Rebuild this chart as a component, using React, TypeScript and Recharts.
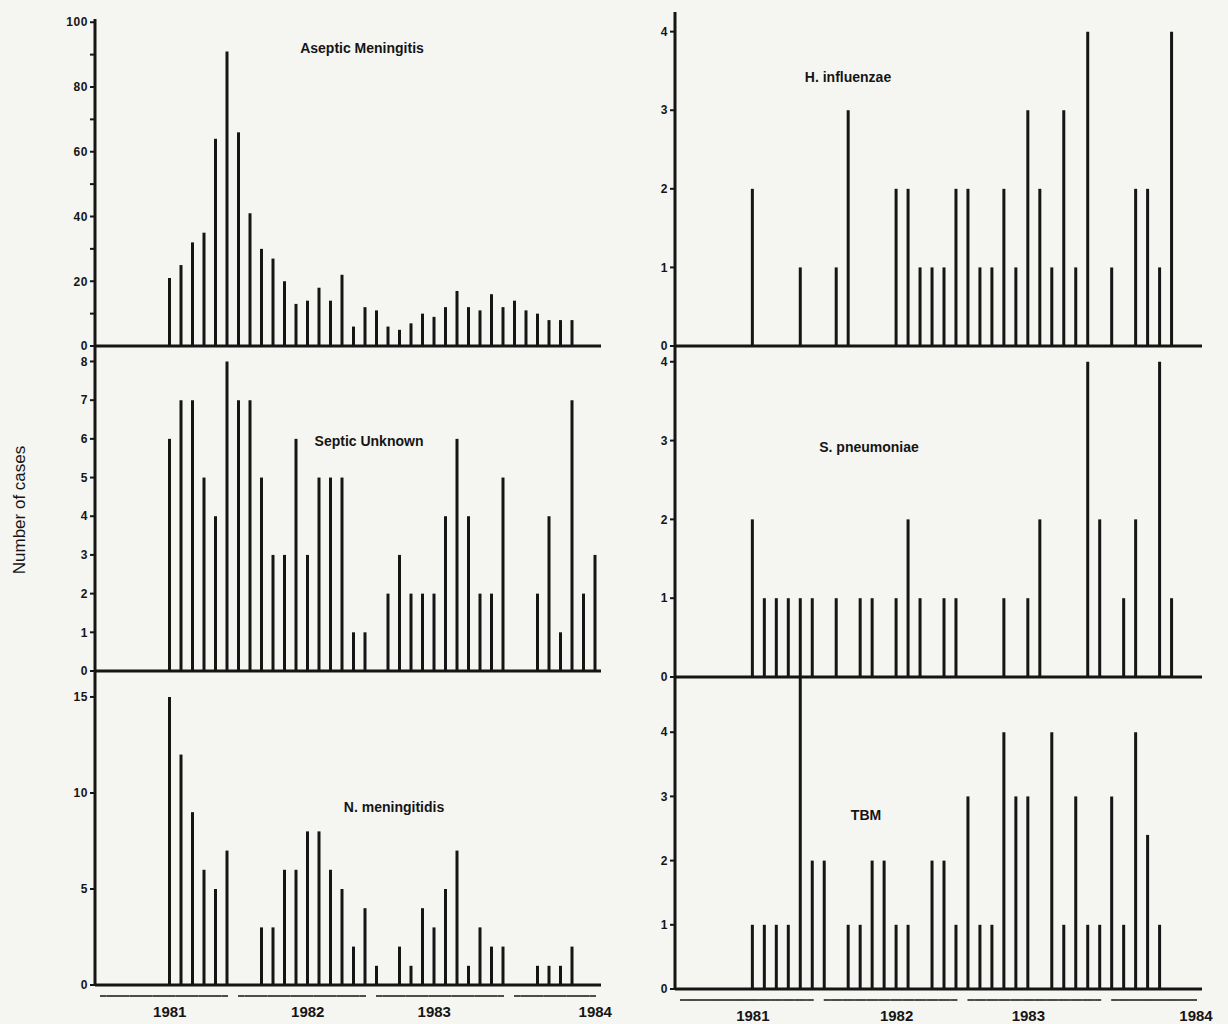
import React from 'react'
import { BarChart, Bar, XAxis, YAxis } from 'recharts'

const INK = '#151515'
const PAPER = '#f5f5f2'
const FONT = '"Liberation Sans", Arial, sans-serif'

const MONTH_NAMES = ['Jan', 'Feb', 'Mar', 'Apr', 'May', 'Jun', 'Jul', 'Aug', 'Sep', 'Oct', 'Nov', 'Dec']
const YEARS = ['1981', '1982', '1983', '1984']
// Jan 1981 .. Aug 1984, one slot per month
const MONTHS = YEARS.flatMap(y => MONTH_NAMES.map(m => `${m} ${y}`)).slice(0, 44)
const YEAR_LABEL_AT = ['Jul 1981', 'Jul 1982', 'Jun 1983', 'Aug 1984']

// cases per month
const ASEPTIC = [0, 0, 0, 0, 0, 0, 21, 25, 32, 35, 64, 91, 66, 41, 30, 27, 20, 13, 14, 18, 14, 22, 6, 12, 11, 6, 5, 7, 10, 9, 12, 17, 12, 11, 16, 12, 14, 11, 10, 8, 8, 8, 0, 0]
const SEPTIC = [0, 0, 0, 0, 0, 0, 6, 7, 7, 5, 4, 8, 7, 7, 5, 3, 3, 6, 3, 5, 5, 5, 1, 1, 0, 2, 3, 2, 2, 2, 4, 6, 4, 2, 2, 5, 0, 0, 2, 4, 1, 7, 2, 3]
const N_MEN = [0, 0, 0, 0, 0, 0, 15, 12, 9, 6, 5, 7, 0, 0, 3, 3, 6, 6, 8, 8, 6, 5, 2, 4, 1, 0, 2, 1, 4, 3, 5, 7, 1, 3, 2, 2, 0, 0, 1, 1, 1, 2, 0, 0]
const H_INFL = [0, 0, 0, 0, 0, 0, 2, 0, 0, 0, 1, 0, 0, 1, 3, 0, 0, 0, 2, 2, 1, 1, 1, 2, 2, 1, 1, 2, 1, 3, 2, 1, 3, 1, 4, 0, 1, 0, 2, 2, 1, 4, 0, 0]
const S_PNEU = [0, 0, 0, 0, 0, 0, 2, 1, 1, 1, 1, 1, 0, 1, 0, 1, 1, 0, 1, 2, 1, 0, 1, 1, 0, 0, 0, 1, 0, 1, 2, 0, 0, 0, 4, 2, 0, 1, 2, 0, 4, 1, 0, 0]
const TBM = [0, 0, 0, 0, 0, 0, 1, 1, 1, 1, 5, 2, 2, 0, 1, 1, 2, 2, 1, 1, 0, 2, 2, 1, 3, 1, 1, 4, 3, 3, 0, 4, 1, 3, 1, 1, 3, 1, 4, 2.4, 1, 0, 0, 0]

const TICKS_ASEPTIC = [0, 10, 20, 30, 40, 50, 60, 70, 80, 90, 100]
const TICKS_SEPTIC = [0, 1, 2, 3, 4, 5, 6, 7, 8]
const TICKS_NMEN = [0, 5, 10, 15]
const TICKS_SMALL = [0, 1, 2, 3, 4]

const data = MONTHS.map((month, i) => ({
  month,
  aseptic: ASEPTIC[i],
  septic: SEPTIC[i],
  nmen: N_MEN[i],
  hinfl: H_INFL[i],
  spneu: S_PNEU[i],
  tbm: TBM[i],
}))

const LEFT_COL = { x0: 0, axisX: 95, right: 601 }
const RIGHT_COL = { x0: 600, axisX: 675, right: 1202 }

const PANELS = [
  { key: 'aseptic', title: 'Aseptic Meningitis', col: LEFT_COL, top: 19, bottom: 346, max: 101, ticks: TICKS_ASEPTIC, step: 20, tx: 362, ty: 48, years: false },
  { key: 'septic', title: 'Septic Unknown', col: LEFT_COL, top: 346, bottom: 671, max: 8.4, ticks: TICKS_SEPTIC, step: 1, tx: 369, ty: 441, years: false },
  { key: 'nmen', title: 'N. meningitidis', col: LEFT_COL, top: 672, bottom: 985, max: 16.3, ticks: TICKS_NMEN, step: 5, tx: 394, ty: 807, years: true },
  { key: 'hinfl', title: 'H. influenzae', col: RIGHT_COL, top: 12, bottom: 346, max: 4.25, ticks: TICKS_SMALL, step: 1, tx: 848, ty: 77, years: false },
  { key: 'spneu', title: 'S. pneumoniae', col: RIGHT_COL, top: 346, bottom: 677, max: 4.2, ticks: TICKS_SMALL, step: 1, tx: 869, ty: 447, years: false },
  { key: 'tbm', title: 'TBM', col: RIGHT_COL, top: 677, bottom: 989, max: 4.86, ticks: TICKS_SMALL, step: 1, tx: 866, ty: 815, years: true },
]

function YearTick(props: any) {
  const { x, y, payload, slot } = props
  const value = payload.value as string
  const [mon, year] = value.split(' ')
  const m = MONTH_NAMES.indexOf(mon)
  const last = value === MONTHS[MONTHS.length - 1]
  const x1 = x - slot / 2 + (m === 0 ? 5 : 0)
  const x2 = x + slot / 2 - (m === 11 || last ? 5 : 0)
  return (
    <g>
      <line x1={x1} x2={x2} y1={y + 11} y2={y + 11} stroke={INK} strokeWidth={1.5} />
      {YEAR_LABEL_AT.includes(value) && (
        <text x={x} y={y + 32} textAnchor="middle" fill={INK} fontSize={15} fontWeight={700} fontFamily={FONT}>
          {year}
        </text>
      )}
    </g>
  )
}

function Panel({ p }: { p: any }) {
  const marginTop = 12
  const marginRight = 30
  const xHeight = p.years ? 44 : 12
  const slot = (p.col.right - p.col.axisX) / MONTHS.length
  const w = p.col.right - p.col.x0 + marginRight
  const h = marginTop + (p.bottom - p.top) + xHeight
  return (
    <div style={{ position: 'absolute', left: p.col.x0, top: p.top - marginTop }}>
      <BarChart width={w} height={h} data={data} margin={{ top: marginTop, right: marginRight, bottom: 0, left: 0 }}>
        <XAxis
          dataKey="month"
          interval={0}
          height={xHeight}
          axisLine={{ stroke: INK, strokeWidth: 3 }}
          tickLine={false}
          tickSize={0}
          tickMargin={0}
          tick={p.years ? <YearTick slot={slot} /> : false}
        />
        <YAxis
          width={p.col.axisX - p.col.x0}
          domain={[0, p.max]}
          allowDataOverflow
          ticks={p.ticks}
          interval={0}
          tickSize={5}
          tickMargin={2}
          axisLine={{ stroke: INK, strokeWidth: 3 }}
          tickLine={{ stroke: INK, strokeWidth: 2 }}
          tick={{ fill: INK, fontSize: 12, fontWeight: 700, fontFamily: FONT, letterSpacing: 0.6 }}
          tickFormatter={(v: number) => (v % p.step === 0 ? String(v) : '')}
        />
        <Bar dataKey={p.key} fill={INK} barSize={3} isAnimationActive={false} />
      </BarChart>
      <div
        style={{
          position: 'absolute',
          left: p.tx - p.col.x0,
          top: p.ty - p.top + marginTop,
          transform: 'translate(-50%, -50%)',
          whiteSpace: 'nowrap',
          fontFamily: FONT,
          fontWeight: 700,
          fontSize: 14,
          color: INK,
        }}
      >
        {p.title}
      </div>
    </div>
  )
}

export default function App() {
  return (
    <div style={{ position: 'absolute', left: 0, top: 0, width: 1228, height: 1024, background: PAPER, overflow: 'hidden' }}>
      {PANELS.map(p => (
        <Panel key={p.key} p={p} />
      ))}
      <div
        style={{
          position: 'absolute',
          left: 20,
          top: 510,
          transform: 'translate(-50%, -50%) rotate(-90deg)',
          whiteSpace: 'nowrap',
          fontFamily: FONT,
          fontSize: 17,
          color: INK,
        }}
      >
        Number of cases
      </div>
    </div>
  )
}
